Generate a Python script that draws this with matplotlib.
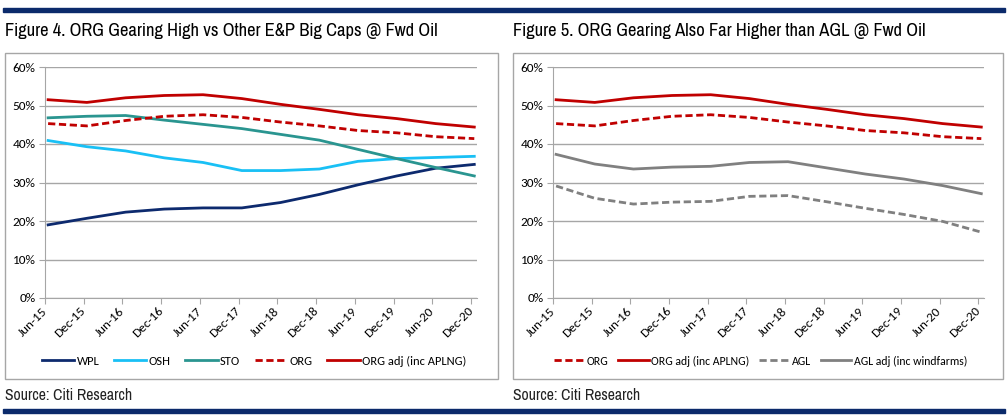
import matplotlib
matplotlib.use("Agg")
import matplotlib.pyplot as plt
from matplotlib import font_manager
from matplotlib.patches import Rectangle
from matplotlib.ticker import PercentFormatter
import numpy as np

dates = ["Jun-15", "Dec-15", "Jun-16", "Dec-16", "Jun-17", "Dec-17",
         "Jun-18", "Dec-18", "Jun-19", "Dec-19", "Jun-20", "Dec-20"]

wpl = [19.0, 20.7, 22.3, 23.1, 23.4, 23.4, 24.8, 26.9, 29.4, 31.7, 33.7, 34.7]
osh = [40.9, 39.3, 38.2, 36.4, 35.2, 33.1, 33.1, 33.5, 35.5, 36.2, 36.5, 36.8]
sto = [46.8, 47.2, 47.4, 46.2, 45.1, 44.0, 42.5, 41.0, 38.6, 36.2, 33.9, 31.7]
org = [45.3, 44.7, 46.1, 47.2, 47.6, 46.9, 45.7, 44.7, 43.5, 42.9, 41.9, 41.4]
org_adj = [51.5, 50.8, 52.0, 52.6, 52.8, 51.8, 50.3, 49.0, 47.6, 46.6, 45.3, 44.4]
agl = [29.1, 25.9, 24.4, 24.9, 25.1, 26.4, 26.6, 25.0, 23.3, 21.7, 19.9, 17.1]
agl_adj = [37.3, 34.8, 33.5, 34.0, 34.2, 35.2, 35.4, 33.8, 32.2, 30.9, 29.2, 27.1]

titles = ["Figure 4. ORG Gearing High vs Other E&P Big Caps @ Fwd Oil",
          "Figure 5. ORG Gearing Also Far Higher than AGL @ Fwd Oil"]
source = "Source: Citi Research"

# pick a narrow face like Arial Narrow, and a Calibri-like face
have = set(f.name for f in font_manager.fontManager.ttflist)
def pick(cands, default):
    for c in cands:
        if c in have:
            return c
    return default

narrow_name = pick(["Liberation Sans Narrow", "Arial Narrow", "Archivo Narrow",
                    "PT Sans Narrow", "Roboto Condensed", "Pragati Narrow",
                    "Encode Sans Condensed", "Open Sans Condensed"], None)
small_name = pick(["Carlito", "Calibri", "Lato"], "DejaVu Sans")
if narrow_name:
    narrow = [narrow_name, "DejaVu Sans"]
    title_size, src_size = 13.3, 11.3
else:
    narrow = ["Liberation Sans", "DejaVu Sans"]
    title_size, src_size = 11, 9.5
small = [small_name, "DejaVu Sans"]

W, H = 1008, 416
fig = plt.figure(figsize=(W / 100, H / 100), dpi=100)

def fx(px):
    return px / W

def fy(py):
    return 1 - py / H

navy = "#0b2a6b"
# top and bottom rules
fig.patches.append(Rectangle((fx(3), fy(12)), fx(1002), 4 / H, transform=fig.transFigure,
                             color=navy, zorder=5))
fig.patches.append(Rectangle((fx(3), fy(413)), fx(1002), 4 / H, transform=fig.transFigure,
                             color=navy, zorder=5))

red = "#c00000"
grey = "#808080"
dash = (0, (2.6, 1.3))
lw = 2.0

panels = [
    dict(box=(5, 53, 498, 379), ax=(45, 67, 477, 298), tx=5,
         leg=dict(size=9, hl=2.6, cs=1.15),
         series=[(wpl, "WPL", "#0d2a6e", "-"), (osh, "OSH", "#19c0f5", "-"),
                 (sto, "STO", "#2a9590", "-"), (org, "ORG", red, dash),
                 (org_adj, "ORG adj (inc APLNG)", red, "-")]),
    dict(box=(513, 53, 1003, 379), ax=(553, 67, 984, 298), tx=513,
         leg=dict(size=8.5, hl=2.6, cs=0.8),
         series=[(org, "ORG", red, dash), (org_adj, "ORG adj (inc APLNG)", red, "-"),
                 (agl, "AGL", grey, dash), (agl_adj, "AGL adj (inc windfarms)", grey, "-")]),
]

x = np.arange(len(dates))
for i, p in enumerate(panels):
    bx0, by0, bx1, by1 = p["box"]
    fig.patches.append(Rectangle((fx(bx0), fy(by1)), fx(bx1 - bx0), (by1 - by0) / H,
                                 transform=fig.transFigure, fill=False,
                                 edgecolor="#a6a6a6", linewidth=1.0))
    fig.text(fx(p["tx"]), fy(31), titles[i], fontsize=title_size, family=narrow,
             va="center", ha="left")
    fig.text(fx(p["tx"]), fy(395), source, fontsize=src_size, family=narrow,
             va="center", ha="left", color="#222222")

    ax0, ay0, ax1, ay1 = p["ax"]
    ax = fig.add_axes([fx(ax0), fy(ay1), fx(ax1 - ax0), (ay1 - ay0) / H])
    for vals, name, col, ls in p["series"]:
        ax.plot(x + 0.08, vals, color=col, linestyle=ls, linewidth=lw, label=name)
    ax.set_xlim(0, 11.15)
    ax.set_ylim(0, 60)
    ax.set_yticks(range(0, 61, 10))
    ax.yaxis.set_major_formatter(PercentFormatter(decimals=0))
    ax.set_xticks(x)
    ax.set_xticklabels(dates, rotation=45, ha="right", va="center",
                       rotation_mode="anchor", fontsize=9.5, family=small)
    for lab in ax.get_yticklabels():
        lab.set_fontsize(9.5)
        lab.set_family(small)
    ax.grid(axis="y", color="#a6a6a6", linewidth=1.0)
    ax.set_axisbelow(True)
    for s in ["top", "right"]:
        ax.spines[s].set_visible(False)
    ax.spines["left"].set_color("#a6a6a6")
    ax.spines["bottom"].set_color("#a6a6a6")
    ax.tick_params(axis="y", length=4, color="#a6a6a6", pad=3)
    ax.tick_params(axis="x", length=4, color="#a6a6a6", pad=4)
    lg = p["leg"]
    fig.legend(*ax.get_legend_handles_labels(), loc="center",
               bbox_to_anchor=(fx((bx0 + bx1) / 2 + 2.5), fy(361)), ncol=len(p["series"]),
               frameon=False, prop={"family": small, "size": lg["size"]},
               handlelength=lg["hl"], handletextpad=0.2, columnspacing=lg["cs"])

fig.savefig("out.png", dpi=100)
